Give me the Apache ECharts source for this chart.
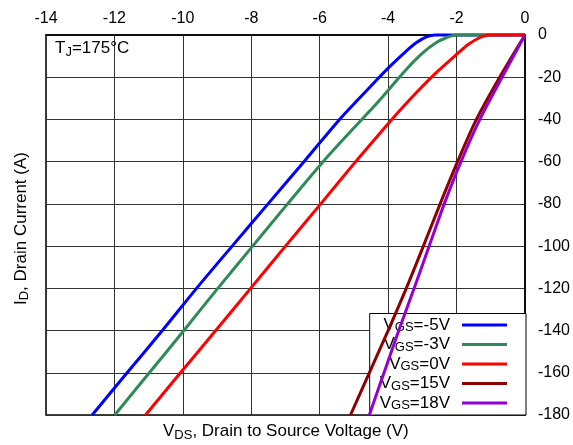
<!DOCTYPE html>
<html>
<head>
<meta charset="utf-8">
<script src="https://cdn.jsdelivr.net/npm/echarts@6/dist/echarts.min.js"></script>
<style>
html,body{margin:0;padding:0;background:#fff;}
#chart{width:573px;height:445px;}
</style>
</head>
<body>
<div id="chart"></div>
<script>
// Data: [V_DS (V), I_D (A)]
const seriesNames = ['VGS=-5V', 'VGS=-3V', 'VGS=0V', 'VGS=15V', 'VGS=18V'];
const vgsM5 = [[-12.65,-180],[-11.63,-160],[-10.6,-140],[-9.6,-120],[-8.56,-100],[-7.51,-80],[-6.46,-60],[-5.42,-40],[-4.92,-31.3],[-4.44,-23.1],[-3.97,-15.2],[-3.47,-7.6],[-3.17,-3.6],[-2.88,-0.9],[-2.62,0],[0,0]];
const vgsM3 = [[-11.99,-180],[-10.98,-160],[-9.97,-140],[-8.98,-120],[-7.96,-100],[-6.94,-80],[-5.90,-60],[-4.77,-40],[-4.45,-34.5],[-3.95,-25.3],[-3.47,-16.3],[-2.98,-8.4],[-2.59,-3.6],[-2.30,-1.3],[-2.01,0],[0,0]];
const vgs0 = [[-11.09,-180],[-10.07,-160],[-9.04,-140],[-8.02,-120],[-7.0,-100],[-5.97,-80],[-4.95,-60],[-4.0,-42],[-3.62,-35],[-3.13,-26.5],[-2.6,-17.9],[-2.0,-9.2],[-1.65,-4.4],[-1.33,-1.3],[-1.05,0],[0,0]];
const vgs15 = [[-5.10,-180],[-4.55,-160],[-4.0,-140],[-3.47,-120],[-2.97,-100],[-2.48,-80],[-1.97,-60],[-1.42,-40],[-0.74,-20],[0,0]];
const vgs18 = [[-4.55,-180],[-4.12,-160],[-3.69,-140],[-3.24,-120],[-2.80,-100],[-2.36,-80],[-1.87,-60],[-1.32,-40],[-0.67,-20],[0,0]];
const seriesData = [vgsM5, vgsM3, vgs0, vgs15, vgs18];
const seriesColors = ['#0000ff', '#2e8b57', '#ff0000', '#8b0000', '#9400d3'];
const xTicks = { min: -14, max: 0, step: 2 };
const yTicks = { min: -180, max: 0, step: 20 };

const FONT = 'Liberation Sans, Arial, Helvetica, sans-serif';
const chart = echarts.init(document.getElementById('chart'));

const series = seriesNames.map((n, i) => ({
  name: n,
  type: 'line',
  data: seriesData[i],
  showSymbol: false,
  smooth: 0.3,
  clip: false,
  lineStyle: { color: seriesColors[i], width: 3 },
  itemStyle: { color: seriesColors[i] },
  z: 5 + i
}));

function subText(main, sub, rest, size, subSize) {
  return {
    text: '{a|' + main + '}{b|' + sub + '}{a|' + rest + '}',
    rich: {
      a: { fontSize: size, fontFamily: FONT, fill: '#000' },
      b: { fontSize: subSize, fontFamily: FONT, fill: '#000', padding: [7, 0, 0, 0] }
    }
  };
}

chart.setOption({
  animation: false,
  backgroundColor: '#fff',
  grid: { left: 46, right: 46, top: 35, bottom: 30, show: true, borderColor: '#000', borderWidth: 1.5, backgroundColor: 'transparent' },
  xAxis: {
    type: 'value', position: 'top', min: xTicks.min, max: xTicks.max, interval: xTicks.step,
    axisLine: { show: true, lineStyle: { color: '#000', width: 1.5 } },
    axisTick: { show: false },
    axisLabel: { color: '#000', fontSize: 16, fontFamily: FONT, margin: 8 },
    splitLine: { show: true, lineStyle: { color: '#333', width: 1 } }
  },
  yAxis: {
    type: 'value', position: 'right', min: yTicks.min, max: yTicks.max, interval: yTicks.step,
    axisLine: { show: true, lineStyle: { color: '#000', width: 1.5 } },
    axisTick: { show: false },
    axisLabel: { color: '#000', fontSize: 16, fontFamily: FONT, margin: 13 },
    splitLine: { show: true, lineStyle: { color: '#333', width: 1 } }
  },
  legend: {
    orient: 'vertical', right: 47, bottom: 30, align: 'right', z: 4,
    itemWidth: 45, itemHeight: 3, itemGap: 2, icon: 'rect',
    backgroundColor: '#fff', borderColor: '#000', borderWidth: 1,
    padding: [3, 19, 3, 10], borderRadius: 0,
    data: seriesNames,
    formatter: function (name) { return '{a|V}{b|GS}{a|' + name.slice(3) + '}{g|}'; },
    textStyle: {
      color: '#000', fontFamily: FONT, fontSize: 17,
      rich: {
        a: { fontSize: 17, fontFamily: FONT, color: '#000' },
        b: { fontSize: 13, fontFamily: FONT, color: '#000', padding: [5, 0, 0, 0] },
        g: { width: 7 }
      }
    }
  },
  graphic: [
    { type: 'text', left: 55, top: 40, z: 10, style: subText('T', 'J', '=175°C', 17, 13) },
    { type: 'text', left: 163, top: 423, z: 10, style: subText('V', 'DS', ', Drain to Source Voltage (V)', 17, 13) },
    { type: 'text', x: 11, y: 305, rotation: Math.PI / 2, z: 10, style: subText('I', 'D', ', Drain Current (A)', 17, 13) }
  ],
  series: series
});
</script>
</body>
</html>
